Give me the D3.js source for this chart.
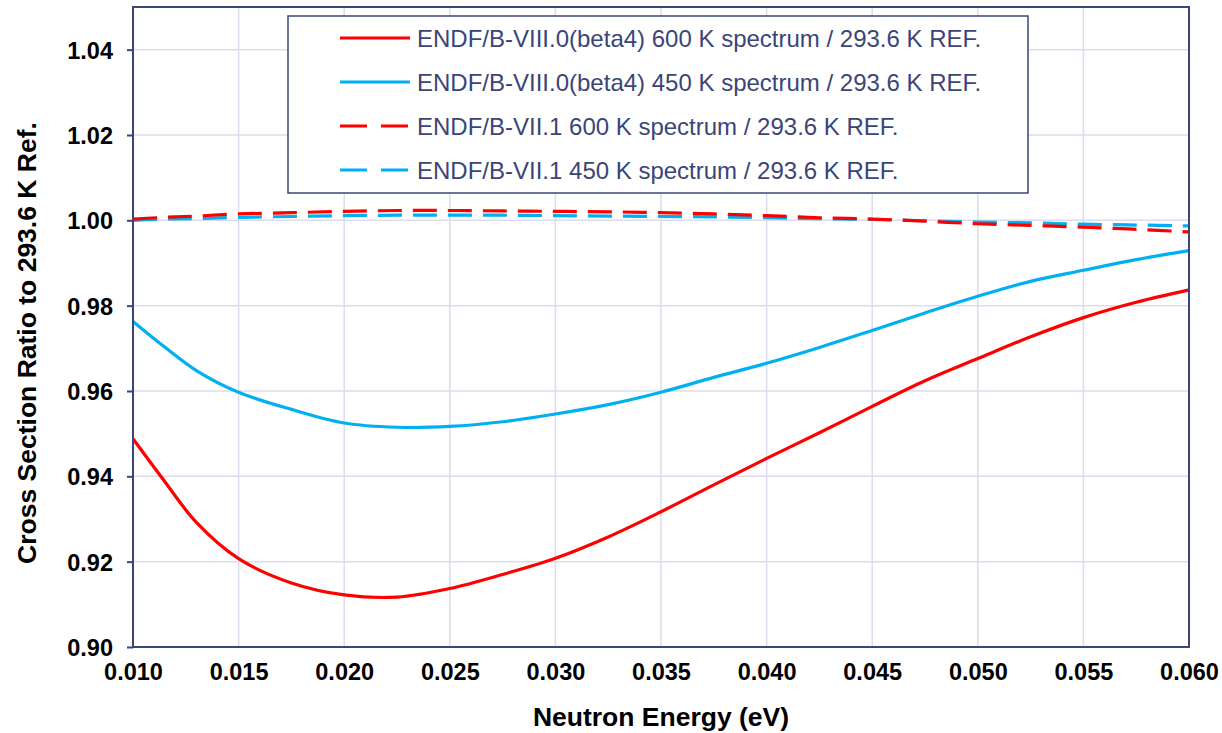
<!DOCTYPE html>
<html>
<head>
<meta charset="utf-8">
<script src="https://cdn.jsdelivr.net/npm/d3@7"></script>
<style>
  body { margin: 0; background: #fff; }
  svg { display: block; font-family: "Liberation Sans", Arial, sans-serif; }
</style>
</head>
<body>
<div id="chart"></div>
<script>
const energy = [0.010, 0.0115, 0.013, 0.015, 0.0175, 0.020, 0.0225, 0.025, 0.0275, 0.030, 0.0325,
    0.035, 0.0375, 0.040, 0.0425, 0.045, 0.0475, 0.050, 0.0525, 0.055, 0.0575, 0.060];

const beta4_600 = [0.9488, 0.9388, 0.9292, 0.9207, 0.9150, 0.9122, 0.9117, 0.9137, 0.9170, 0.9208, 0.9258,
    0.9317, 0.9380, 0.9442, 0.9502, 0.9564, 0.9624, 0.9676, 0.9727, 0.9772, 0.9808, 0.9837];
const beta4_450 = [0.9763, 0.9703, 0.9648, 0.9597, 0.9557, 0.9525, 0.9515, 0.9517, 0.9528, 0.9546, 0.9568,
    0.9597, 0.9632, 0.9665, 0.9702, 0.9742, 0.9783, 0.9822, 0.9857, 0.9883, 0.9908, 0.9929];
const vii1_600 = [1.0003, 1.0007, 1.0010, 1.0015, 1.0018, 1.0021, 1.0023, 1.0023, 1.0022, 1.0021, 1.0020,
    1.0018, 1.0015, 1.0011, 1.0006, 1.0003, 0.9998, 0.9992, 0.9988, 0.9984, 0.9979, 0.9973];
const vii1_450 = [1.0000, 1.0003, 1.0004, 1.0007, 1.0009, 1.0011, 1.0012, 1.0012, 1.0012, 1.0011, 1.0010,
    1.0009, 1.0008, 1.0006, 1.0004, 1.0002, 0.9999, 0.9996, 0.9994, 0.9991, 0.9989, 0.9987];

const seriesNames = [
    "ENDF/B-VIII.0(beta4) 600 K spectrum / 293.6 K REF.",
    "ENDF/B-VIII.0(beta4) 450 K spectrum / 293.6 K REF.",
    "ENDF/B-VII.1 600 K spectrum / 293.6 K REF.",
    "ENDF/B-VII.1 450 K spectrum / 293.6 K REF."
];

const xTicks = [0.010, 0.015, 0.020, 0.025, 0.030, 0.035, 0.040, 0.045, 0.050, 0.055, 0.060];
const yTicks = [0.90, 0.92, 0.94, 0.96, 0.98, 1.00, 1.02, 1.04];

const width = 1222;
const height = 733;
const margin = { top: 7, right: 33, bottom: 86, left: 133 };
const navy = "#3b4577";
const gridColor = "#dcdcee";

const series = [
    { name: seriesNames[0], values: beta4_600, color: "#ff0000", dash: null },
    { name: seriesNames[1], values: beta4_450, color: "#00b0f0", dash: null },
    { name: seriesNames[2], values: vii1_600, color: "#ff0000", dash: "24 11" },
    { name: seriesNames[3], values: vii1_450, color: "#00b0f0", dash: "24 11" }
];

const svg = d3.select("#chart")
    .append("svg")
    .attr("width", width)
    .attr("height", height);

const x = d3.scaleLinear()
    .domain([0.010, 0.060])
    .range([margin.left, width - margin.right]);

const y = d3.scaleLinear()
    .domain([0.90, 1.05])
    .range([height - margin.bottom, margin.top]);

// grid
svg.append("g")
    .selectAll("line")
    .data(xTicks)
    .enter()
    .append("line")
    .attr("x1", d => x(d)).attr("x2", d => x(d))
    .attr("y1", y.range()[0]).attr("y2", y.range()[1])
    .attr("stroke", gridColor)
    .attr("stroke-width", 1.5);

svg.append("g")
    .selectAll("line")
    .data(yTicks)
    .enter()
    .append("line")
    .attr("x1", x.range()[0]).attr("x2", x.range()[1])
    .attr("y1", d => y(d)).attr("y2", d => y(d))
    .attr("stroke", gridColor)
    .attr("stroke-width", 1.5);

// axes
const yAxis = svg.append("g")
    .attr("transform", `translate(${margin.left},0)`)
    .call(d3.axisLeft(y).tickValues(yTicks).tickFormat(d3.format(".2f")).tickSize(6).tickPadding(14));

const xAxis = svg.append("g")
    .attr("transform", `translate(0,${height - margin.bottom})`)
    .call(d3.axisBottom(x).tickValues(xTicks).tickFormat(d3.format(".3f")).tickSize(0).tickPadding(16));

[xAxis, yAxis].forEach(a => {
    a.select(".domain").remove();
    a.selectAll(".tick line").attr("stroke", navy).attr("stroke-width", 2);
    a.selectAll("text")
        .attr("fill", "#000")
        .style("font-size", "23.5px")
        .style("font-weight", "bold");
});
yAxis.selectAll("text").attr("dy", "0.36em");

// series lines
const line = d3.line()
    .x((d, i) => x(energy[i]))
    .y(d => y(d))
    .curve(d3.curveCatmullRom.alpha(0.5));

svg.append("g")
    .selectAll("path")
    .data(series.slice().reverse())
    .enter()
    .append("path")
    .attr("d", d => line(d.values))
    .attr("fill", "none")
    .attr("stroke", d => d.color)
    .attr("stroke-width", 3.2)
    .attr("stroke-dasharray", d => d.dash);

// plot frame
svg.append("rect")
    .attr("x", margin.left)
    .attr("y", margin.top)
    .attr("width", width - margin.left - margin.right)
    .attr("height", height - margin.top - margin.bottom)
    .attr("fill", "none")
    .attr("stroke", navy)
    .attr("stroke-width", 2);

// axis titles
svg.append("text")
    .attr("x", (margin.left + width - margin.right) / 2)
    .attr("y", 726)
    .attr("text-anchor", "middle")
    .style("font-size", "26.5px")
    .style("font-weight", "bold")
    .text("Neutron Energy (eV)");

svg.append("text")
    .attr("transform", "translate(36,343) rotate(-90)")
    .attr("text-anchor", "middle")
    .style("font-size", "26.5px")
    .style("font-weight", "bold")
    .text("Cross Section Ratio to 293.6 K Ref.");

// legend
const legend = svg.append("g");
legend.append("rect")
    .attr("x", 288)
    .attr("y", 16)
    .attr("width", 740)
    .attr("height", 177)
    .attr("fill", "#fff")
    .attr("stroke", navy)
    .attr("stroke-width", 1.5);

const item = legend.selectAll("g.item")
    .data(series)
    .enter()
    .append("g")
    .attr("class", "item")
    .attr("transform", (d, i) => `translate(0,${38 + i * 44})`);

item.append("line")
    .attr("x1", 340).attr("x2", 410)
    .attr("y1", 0).attr("y2", 0)
    .attr("stroke", d => d.color)
    .attr("stroke-width", 3.2)
    .attr("stroke-dasharray", d => d.dash ? "27 14" : null);

item.append("text")
    .attr("x", 417)
    .attr("y", 0)
    .attr("dy", "0.36em")
    .attr("fill", navy)
    .style("font-size", "24px")
    .text(d => d.name);
</script>
</body>
</html>
